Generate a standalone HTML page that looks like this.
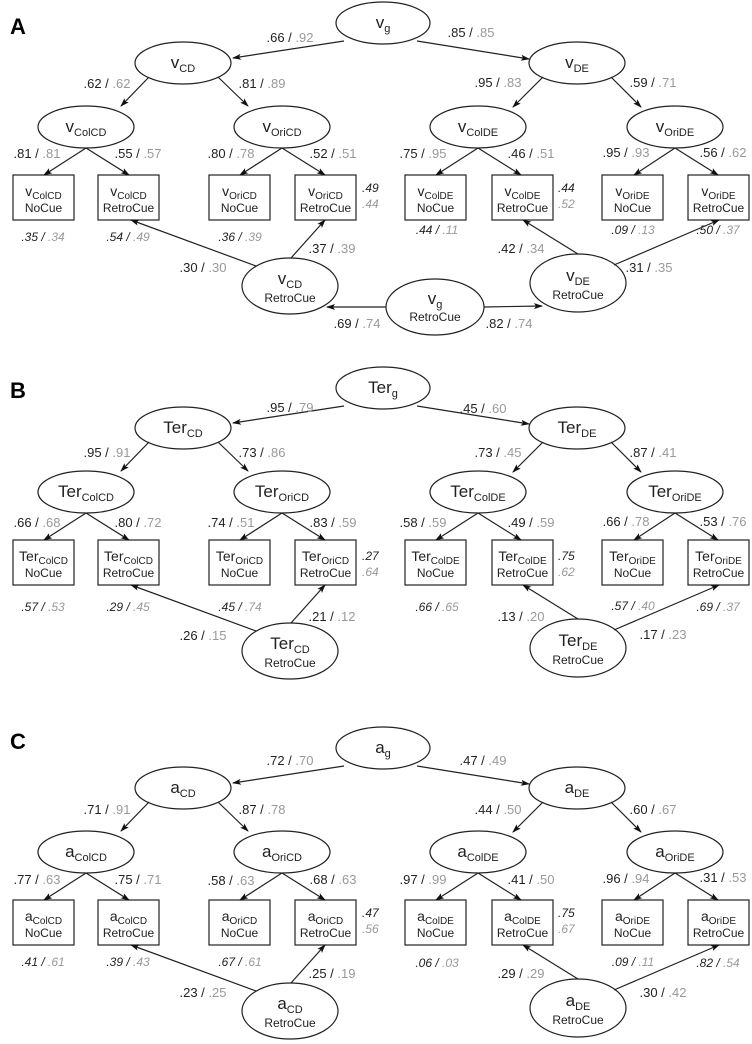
<!DOCTYPE html>
<html><head><meta charset="utf-8"><style>
html,body{margin:0;padding:0;background:#fff}
svg{display:block}
text{font-family:"Liberation Sans",Arial,sans-serif;fill:#222}
.p{font-size:13px;text-anchor:middle}
.r{font-size:12px;font-style:italic;text-anchor:middle}
.rs{font-size:12px;font-style:italic;text-anchor:start}
.g{fill:#999}
.e{font-size:17px;text-anchor:middle}
.b{font-size:14px;text-anchor:middle}
.bs{font-size:12px;text-anchor:middle}
.L{font-size:22px;font-weight:bold;fill:#000}
</style></head><body>
<svg width="752" height="1044" viewBox="0 0 752 1044" xmlns="http://www.w3.org/2000/svg">
<defs>
<marker id="ah" markerWidth="10" markerHeight="8" refX="8" refY="3" orient="auto" markerUnits="userSpaceOnUse">
<path d="M0,0 L9,3 L0,6 L2,3 z" fill="#111"/>
</marker>
<g id="sh" fill="none" stroke="#222" stroke-width="1.2">
<ellipse cx="383" cy="23" rx="47" ry="21" fill="#fff"/>
<ellipse cx="183" cy="63" rx="48" ry="21"/>
<ellipse cx="86" cy="127" rx="48" ry="21"/>
<ellipse cx="282" cy="127" rx="48" ry="21"/>
<ellipse cx="577" cy="63" rx="48" ry="21"/>
<ellipse cx="478" cy="127" rx="48" ry="21"/>
<ellipse cx="675" cy="127" rx="48" ry="21"/>
<ellipse cx="290" cy="286" rx="48" ry="28"/>
<ellipse cx="578" cy="283" rx="48" ry="29"/>
<rect x="13" y="175" width="61" height="45"/>
<rect x="98" y="175" width="61" height="45"/>
<rect x="209" y="175" width="61" height="45"/>
<rect x="295" y="175" width="61" height="45"/>
<rect x="405" y="175" width="61" height="45"/>
<rect x="492" y="175" width="61" height="45"/>
<rect x="602" y="175" width="61" height="45"/>
<rect x="688" y="175" width="61" height="45"/>
<g marker-end="url(#ah)">
<line x1="344" y1="41" x2="233" y2="58"/>
<line x1="417" y1="41" x2="529" y2="59"/>
<line x1="149" y1="77" x2="121" y2="106"/>
<line x1="218" y1="77" x2="248" y2="106"/>
<line x1="86" y1="148" x2="44" y2="175"/>
<line x1="86" y1="148" x2="129" y2="175"/>
<line x1="282" y1="148" x2="240" y2="175"/>
<line x1="282" y1="148" x2="325" y2="175"/>
<line x1="543" y1="77" x2="513" y2="107"/>
<line x1="611" y1="77" x2="641" y2="107"/>
<line x1="478" y1="148" x2="436" y2="175"/>
<line x1="478" y1="148" x2="521" y2="175"/>
<line x1="675" y1="148" x2="634" y2="175"/>
<line x1="675" y1="148" x2="718" y2="175"/>
<line x1="256" y1="266" x2="131" y2="220"/>
<line x1="291" y1="258" x2="325" y2="220"/>
<line x1="578" y1="254" x2="523" y2="220"/>
<line x1="614" y1="265" x2="719" y2="220"/>
</g>
</g>
</defs>

<!-- ===== Panel A ===== -->
<use href="#sh"/>
<g fill="none" stroke="#222" stroke-width="1.2">
<ellipse cx="435" cy="307" rx="49" ry="28"/>
<line x1="386" y1="307" x2="327" y2="307" marker-end="url(#ah)"/>
<line x1="484" y1="307" x2="542" y2="306" marker-end="url(#ah)"/>
</g>
<text class="L" x="10" y="34">A</text>
<text class="e" x="383" y="28">v<tspan font-size="11" dy="4">g</tspan></text>
<text class="e" x="183" y="68">v<tspan font-size="11" dy="4">CD</tspan></text>
<text class="e" x="86" y="132">v<tspan font-size="11" dy="4">ColCD</tspan></text>
<text class="e" x="282" y="132">v<tspan font-size="11" dy="4">OriCD</tspan></text>
<text class="e" x="577" y="68">v<tspan font-size="11" dy="4">DE</tspan></text>
<text class="e" x="478" y="132">v<tspan font-size="11" dy="4">ColDE</tspan></text>
<text class="e" x="675" y="132">v<tspan font-size="11" dy="4">OriDE</tspan></text>
<text class="e" x="290" y="284">v<tspan font-size="11" dy="4">CD</tspan></text>
<text class="bs" x="290" y="302">RetroCue</text>
<text class="e" x="578" y="281">v<tspan font-size="11" dy="4">DE</tspan></text>
<text class="bs" x="578" y="299">RetroCue</text>
<text class="e" x="435" y="304">v<tspan font-size="11" dy="4">g</tspan></text>
<text class="bs" x="435" y="321">RetroCue</text>
<g>
<text class="b" x="43.5" y="196">v<tspan font-size="10" dy="3">ColCD</tspan></text><text class="bs" x="43.5" y="212">NoCue</text>
<text class="b" x="128.5" y="196">v<tspan font-size="10" dy="3">ColCD</tspan></text><text class="bs" x="128.5" y="212">RetroCue</text>
<text class="b" x="239.5" y="196">v<tspan font-size="10" dy="3">OriCD</tspan></text><text class="bs" x="239.5" y="212">NoCue</text>
<text class="b" x="325.5" y="196">v<tspan font-size="10" dy="3">OriCD</tspan></text><text class="bs" x="325.5" y="212">RetroCue</text>
<text class="b" x="435.5" y="196">v<tspan font-size="10" dy="3">ColDE</tspan></text><text class="bs" x="435.5" y="212">NoCue</text>
<text class="b" x="522.5" y="196">v<tspan font-size="10" dy="3">ColDE</tspan></text><text class="bs" x="522.5" y="212">RetroCue</text>
<text class="b" x="632.5" y="196">v<tspan font-size="10" dy="3">OriDE</tspan></text><text class="bs" x="632.5" y="212">NoCue</text>
<text class="b" x="718.5" y="196">v<tspan font-size="10" dy="3">OriDE</tspan></text><text class="bs" x="718.5" y="212">RetroCue</text>
</g>
<g>
<text class="p" x="290" y="42">.66 / <tspan class="g">.92</tspan></text>
<text class="p" x="471" y="37">.85 / <tspan class="g">.85</tspan></text>
<text class="p" x="107" y="88">.62 / <tspan class="g">.62</tspan></text>
<text class="p" x="262" y="88">.81 / <tspan class="g">.89</tspan></text>
<text class="p" x="37" y="158">.81 / <tspan class="g">.81</tspan></text>
<text class="p" x="138" y="158">.55 / <tspan class="g">.57</tspan></text>
<text class="p" x="231" y="158">.80 / <tspan class="g">.78</tspan></text>
<text class="p" x="333" y="158">.52 / <tspan class="g">.51</tspan></text>
<text class="p" x="498" y="87">.95 / <tspan class="g">.83</tspan></text>
<text class="p" x="653" y="87">.59 / <tspan class="g">.71</tspan></text>
<text class="p" x="423" y="158">.75 / <tspan class="g">.95</tspan></text>
<text class="p" x="531" y="158">.46 / <tspan class="g">.51</tspan></text>
<text class="p" x="626" y="157">.95 / <tspan class="g">.93</tspan></text>
<text class="p" x="723" y="157">.56 / <tspan class="g">.62</tspan></text>
<text class="p" x="203" y="272">.30 / <tspan class="g">.30</tspan></text>
<text class="p" x="332" y="253">.37 / <tspan class="g">.39</tspan></text>
<text class="p" x="357" y="328">.69 / <tspan class="g">.74</tspan></text>
<text class="p" x="509" y="328">.82 / <tspan class="g">.74</tspan></text>
<text class="p" x="521" y="253">.42 / <tspan class="g">.34</tspan></text>
<text class="p" x="649" y="272">.31 / <tspan class="g">.35</tspan></text>
<text class="r" x="43" y="241">.35 / <tspan class="g">.34</tspan></text>
<text class="r" x="128" y="241">.54 / <tspan class="g">.49</tspan></text>
<text class="r" x="240" y="241">.36 / <tspan class="g">.39</tspan></text>
<text class="rs" x="362" y="192">.49</text><text class="rs g" x="362" y="208">.44</text>
<text class="rs" x="558" y="192">.44</text><text class="rs g" x="558" y="208">.52</text>
<text class="r" x="437" y="234">.44 / <tspan class="g">.11</tspan></text>
<text class="r" x="633" y="234">.09 / <tspan class="g">.13</tspan></text>
<text class="r" x="718" y="234">.50 / <tspan class="g">.37</tspan></text>
</g>

<!-- ===== Panel B ===== -->
<g transform="translate(0,365)">
<use href="#sh"/>
<text class="L" x="10" y="33">B</text>
<text class="e" x="383" y="28">Ter<tspan font-size="11" dy="4">g</tspan></text>
<text class="e" x="183" y="68">Ter<tspan font-size="11" dy="4">CD</tspan></text>
<text class="e" x="86" y="132">Ter<tspan font-size="11" dy="4">ColCD</tspan></text>
<text class="e" x="282" y="132">Ter<tspan font-size="11" dy="4">OriCD</tspan></text>
<text class="e" x="577" y="68">Ter<tspan font-size="11" dy="4">DE</tspan></text>
<text class="e" x="478" y="132">Ter<tspan font-size="11" dy="4">ColDE</tspan></text>
<text class="e" x="675" y="132">Ter<tspan font-size="11" dy="4">OriDE</tspan></text>
<text class="e" x="290" y="284">Ter<tspan font-size="11" dy="4">CD</tspan></text>
<text class="bs" x="290" y="302">RetroCue</text>
<text class="e" x="578" y="281">Ter<tspan font-size="11" dy="4">DE</tspan></text>
<text class="bs" x="578" y="299">RetroCue</text>
<text class="b" x="43.5" y="196">Ter<tspan font-size="10" dy="3">ColCD</tspan></text><text class="bs" x="43.5" y="212">NoCue</text>
<text class="b" x="128.5" y="196">Ter<tspan font-size="10" dy="3">ColCD</tspan></text><text class="bs" x="128.5" y="212">RetroCue</text>
<text class="b" x="239.5" y="196">Ter<tspan font-size="10" dy="3">OriCD</tspan></text><text class="bs" x="239.5" y="212">NoCue</text>
<text class="b" x="325.5" y="196">Ter<tspan font-size="10" dy="3">OriCD</tspan></text><text class="bs" x="325.5" y="212">RetroCue</text>
<text class="b" x="435.5" y="196">Ter<tspan font-size="10" dy="3">ColDE</tspan></text><text class="bs" x="435.5" y="212">NoCue</text>
<text class="b" x="522.5" y="196">Ter<tspan font-size="10" dy="3">ColDE</tspan></text><text class="bs" x="522.5" y="212">RetroCue</text>
<text class="b" x="632.5" y="196">Ter<tspan font-size="10" dy="3">OriDE</tspan></text><text class="bs" x="632.5" y="212">NoCue</text>
<text class="b" x="718.5" y="196">Ter<tspan font-size="10" dy="3">OriDE</tspan></text><text class="bs" x="718.5" y="212">RetroCue</text>
<text class="p" x="290" y="47">.95 / <tspan class="g">.79</tspan></text>
<text class="p" x="483" y="48">.45 / <tspan class="g">.60</tspan></text>
<text class="p" x="107" y="92">.95 / <tspan class="g">.91</tspan></text>
<text class="p" x="262" y="92">.73 / <tspan class="g">.86</tspan></text>
<text class="p" x="37" y="162">.66 / <tspan class="g">.68</tspan></text>
<text class="p" x="138" y="162">.80 / <tspan class="g">.72</tspan></text>
<text class="p" x="231" y="162">.74 / <tspan class="g">.51</tspan></text>
<text class="p" x="333" y="162">.83 / <tspan class="g">.59</tspan></text>
<text class="p" x="498" y="92">.73 / <tspan class="g">.45</tspan></text>
<text class="p" x="653" y="92">.87 / <tspan class="g">.41</tspan></text>
<text class="p" x="423" y="162">.58 / <tspan class="g">.59</tspan></text>
<text class="p" x="531" y="162">.49 / <tspan class="g">.59</tspan></text>
<text class="p" x="626" y="161">.66 / <tspan class="g">.78</tspan></text>
<text class="p" x="723" y="161">.53 / <tspan class="g">.76</tspan></text>
<text class="p" x="203" y="275">.26 / <tspan class="g">.15</tspan></text>
<text class="p" x="332" y="256">.21 / <tspan class="g">.12</tspan></text>
<text class="p" x="521" y="256">.13 / <tspan class="g">.20</tspan></text>
<text class="p" x="663" y="274">.17 / <tspan class="g">.23</tspan></text>
<text class="r" x="43" y="246">.57 / <tspan class="g">.53</tspan></text>
<text class="r" x="128" y="246">.29 / <tspan class="g">.45</tspan></text>
<text class="r" x="240" y="246">.45 / <tspan class="g">.74</tspan></text>
<text class="rs" x="362" y="195">.27</text><text class="rs g" x="362" y="211">.64</text>
<text class="rs" x="558" y="195">.75</text><text class="rs g" x="558" y="211">.62</text>
<text class="r" x="437" y="246">.66 / <tspan class="g">.65</tspan></text>
<text class="r" x="633" y="245">.57 / <tspan class="g">.40</tspan></text>
<text class="r" x="718" y="246">.69 / <tspan class="g">.37</tspan></text>
</g>

<!-- ===== Panel C ===== -->
<g transform="translate(0,725)">
<use href="#sh"/>
<text class="L" x="10" y="24">C</text>
<text class="e" x="383" y="28">a<tspan font-size="11" dy="4">g</tspan></text>
<text class="e" x="183" y="68">a<tspan font-size="11" dy="4">CD</tspan></text>
<text class="e" x="86" y="132">a<tspan font-size="11" dy="4">ColCD</tspan></text>
<text class="e" x="282" y="132">a<tspan font-size="11" dy="4">OriCD</tspan></text>
<text class="e" x="577" y="68">a<tspan font-size="11" dy="4">DE</tspan></text>
<text class="e" x="478" y="132">a<tspan font-size="11" dy="4">ColDE</tspan></text>
<text class="e" x="675" y="132">a<tspan font-size="11" dy="4">OriDE</tspan></text>
<text class="e" x="290" y="284">a<tspan font-size="11" dy="4">CD</tspan></text>
<text class="bs" x="290" y="302">RetroCue</text>
<text class="e" x="578" y="281">a<tspan font-size="11" dy="4">DE</tspan></text>
<text class="bs" x="578" y="299">RetroCue</text>
<text class="b" x="43.5" y="196">a<tspan font-size="10" dy="3">ColCD</tspan></text><text class="bs" x="43.5" y="212">NoCue</text>
<text class="b" x="128.5" y="196">a<tspan font-size="10" dy="3">ColCD</tspan></text><text class="bs" x="128.5" y="212">RetroCue</text>
<text class="b" x="239.5" y="196">a<tspan font-size="10" dy="3">OriCD</tspan></text><text class="bs" x="239.5" y="212">NoCue</text>
<text class="b" x="325.5" y="196">a<tspan font-size="10" dy="3">OriCD</tspan></text><text class="bs" x="325.5" y="212">RetroCue</text>
<text class="b" x="435.5" y="196">a<tspan font-size="10" dy="3">ColDE</tspan></text><text class="bs" x="435.5" y="212">NoCue</text>
<text class="b" x="522.5" y="196">a<tspan font-size="10" dy="3">ColDE</tspan></text><text class="bs" x="522.5" y="212">RetroCue</text>
<text class="b" x="632.5" y="196">a<tspan font-size="10" dy="3">OriDE</tspan></text><text class="bs" x="632.5" y="212">NoCue</text>
<text class="b" x="718.5" y="196">a<tspan font-size="10" dy="3">OriDE</tspan></text><text class="bs" x="718.5" y="212">RetroCue</text>
<text class="p" x="290" y="40">.72 / <tspan class="g">.70</tspan></text>
<text class="p" x="483" y="40">.47 / <tspan class="g">.49</tspan></text>
<text class="p" x="107" y="89">.71 / <tspan class="g">.91</tspan></text>
<text class="p" x="262" y="89">.87 / <tspan class="g">.78</tspan></text>
<text class="p" x="37" y="159">.77 / <tspan class="g">.63</tspan></text>
<text class="p" x="138" y="159">.75 / <tspan class="g">.71</tspan></text>
<text class="p" x="231" y="160">.58 / <tspan class="g">.63</tspan></text>
<text class="p" x="333" y="159">.68 / <tspan class="g">.63</tspan></text>
<text class="p" x="498" y="89">.44 / <tspan class="g">.50</tspan></text>
<text class="p" x="653" y="89">.60 / <tspan class="g">.67</tspan></text>
<text class="p" x="423" y="159">.97 / <tspan class="g">.99</tspan></text>
<text class="p" x="531" y="159">.41 / <tspan class="g">.50</tspan></text>
<text class="p" x="626" y="158">.96 / <tspan class="g">.94</tspan></text>
<text class="p" x="723" y="157">.31 / <tspan class="g">.53</tspan></text>
<text class="p" x="203" y="272">.23 / <tspan class="g">.25</tspan></text>
<text class="p" x="332" y="253">.25 / <tspan class="g">.19</tspan></text>
<text class="p" x="521" y="253">.29 / <tspan class="g">.29</tspan></text>
<text class="p" x="663" y="272">.30 / <tspan class="g">.42</tspan></text>
<text class="r" x="43" y="241">.41 / <tspan class="g">.61</tspan></text>
<text class="r" x="128" y="241">.39 / <tspan class="g">.43</tspan></text>
<text class="r" x="240" y="241">.67 / <tspan class="g">.61</tspan></text>
<text class="rs" x="362" y="192">.47</text><text class="rs g" x="362" y="208">.56</text>
<text class="rs" x="558" y="192">.75</text><text class="rs g" x="558" y="208">.67</text>
<text class="r" x="437" y="242">.06 / <tspan class="g">.03</tspan></text>
<text class="r" x="633" y="241">.09 / <tspan class="g">.11</tspan></text>
<text class="r" x="718" y="242">.82 / <tspan class="g">.54</tspan></text>
</g>
</svg>
</body></html>
